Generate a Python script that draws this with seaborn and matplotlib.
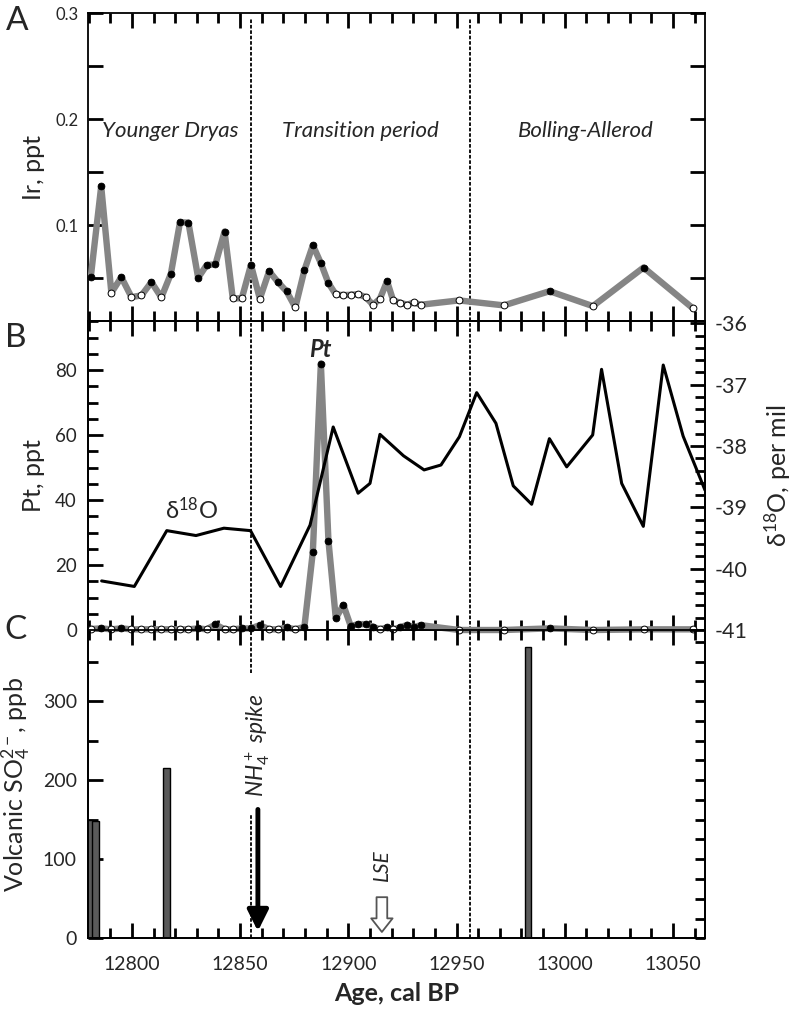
import matplotlib
matplotlib.use('Agg')
import numpy as np
import pandas as pd
import matplotlib.pyplot as plt
import seaborn as sns
from matplotlib.ticker import MultipleLocator, FixedLocator

# --- data ---
age = [12781.0, 12785.8, 12790.5, 12795.1, 12799.8, 12804.4, 12809.0, 12813.6, 12818.0, 12822.2,
       12826.1, 12830.6, 12834.5, 12838.6, 12842.8, 12846.6, 12850.8, 12855.0, 12859.1, 12863.4,
       12867.4, 12871.5, 12875.5, 12879.7, 12883.6, 12887.3, 12890.8, 12894.2, 12897.7, 12901.1,
       12904.5, 12908.0, 12911.4, 12914.6, 12917.9, 12920.7, 12924.0, 12927.2, 12930.2, 12933.4,
       12951.1, 12971.9, 12993.0, 13013.0, 13036.4, 13059.3]

ir = [0.0515, 0.1367, 0.0364, 0.0511, 0.0323, 0.0339, 0.0464, 0.0320, 0.0543, 0.1028,
      0.1025, 0.0505, 0.0624, 0.0633, 0.0941, 0.0310, 0.0313, 0.0627, 0.0308, 0.0567,
      0.0467, 0.0376, 0.0226, 0.0577, 0.0812, 0.0643, 0.0455, 0.0348, 0.0342, 0.0345,
      0.0351, 0.0323, 0.0251, 0.0308, 0.0473, 0.0292, 0.0270, 0.0251, 0.0273, 0.0251,
      0.0292, 0.0245, 0.0379, 0.0238, 0.0602, 0.0216]
ir_detected = [1, 1, 0, 1, 0, 0, 1, 0, 1, 1,
               1, 1, 1, 1, 1, 0, 0, 1, 0, 1,
               1, 1, 0, 1, 1, 1, 1, 0, 0, 0,
               0, 0, 0, 0, 1, 0, 0, 0, 0, 0,
               0, 0, 1, 0, 1, 0]

pt = [0.3, 0.5, 0.2, 0.5, 0.2, 0.2, 0.2, 0.2, 0.2, 0.2,
      0.2, 0.5, 0.2, 1.7, 0.2, 0.2, 0.5, 0.5, 1.5, 0.2,
      0.2, 0.8, 0.2, 1.0, 24.1, 82.0, 27.5, 3.6, 7.7, 1.2,
      1.8, 1.8, 1.0, 0.2, 0.8, 0.2, 0.8, 1.6, 0.8, 1.5,
      0.0, 0.0, 0.5, 0.0, 0.2, 0.2]
pt_detected = [0, 1, 0, 1, 0, 0, 0, 0, 0, 0,
               0, 1, 0, 1, 0, 0, 1, 1, 1, 0,
               0, 1, 0, 1, 1, 1, 1, 1, 1, 1,
               1, 1, 1, 0, 1, 0, 1, 1, 1, 1,
               0, 0, 1, 0, 0, 0]

d18o_age = [12786.0, 12801.1, 12816.1, 12829.6, 12842.5, 12854.8, 12868.7, 12882.3, 12893.0, 12904.5,
            12910.0, 12914.6, 12925.5, 12935.0, 12942.8, 12951.3, 12959.3, 12968.2, 12976.2, 12984.7,
            12992.9, 13000.9, 13012.9, 13017.0, 13026.3, 13036.3, 13045.5, 13054.7, 13064.8]
d18o = [-40.20, -40.29, -39.38, -39.46, -39.34, -39.38, -40.29, -39.29, -37.69, -38.77,
        -38.61, -37.81, -38.16, -38.39, -38.31, -37.85, -37.13, -37.63, -38.65, -38.95,
        -37.88, -38.34, -37.82, -36.75, -38.61, -39.31, -36.68, -37.84, -38.72]

so4_age = [12780.3, 12783.2, 12816.0, 12983.0]
so4 = [150, 148, 215, 369]

periods = ['Younger Dryas', 'Transition period', 'Bolling-Allerod']
period_mid = [12817.6, 12905.4, 13009.8]
boundaries = [12855.0, 12956.0]

xticks = [12800, 12850, 12900, 12950, 13000, 13050]

df = pd.DataFrame({'age': age, 'ir': ir, 'ir_det': ir_detected, 'pt': pt, 'pt_det': pt_detected})
df_o = pd.DataFrame({'age': d18o_age, 'd18o': d18o})

# --- style ---
sns.set_theme(style='ticks')
plt.rcParams['font.family'] = ['Lato', 'DejaVu Sans']
plt.rcParams['mathtext.fontset'] = 'custom'
plt.rcParams['mathtext.rm'] = 'Lato'
plt.rcParams['mathtext.it'] = 'Lato:italic'
plt.rcParams['mathtext.bf'] = 'Lato:bold'
plt.rcParams['axes.linewidth'] = 1.3
plt.rcParams['axes.edgecolor'] = 'black'

GRAY = '#858585'
XLIM = (12779.7, 13064.8)
DASH = (0, (2, 1))
TW = 2.0         # tick width
MAJ, MIN = 11, 7  # tick lengths

fig = plt.figure(figsize=(7.96, 10.17), dpi=100)
left, width = 88 / 796, 617 / 796
ax_a = fig.add_axes([left, 1 - 321 / 1017, width, 308 / 1017])
ax_b = fig.add_axes([left, 1 - 630 / 1017, width, 309 / 1017])
ax_c = fig.add_axes([left, 1 - 938.3 / 1017, width, 308.3 / 1017])
ax_b2 = ax_b.twinx()
ax_c2 = ax_c.twinx()
for ax in (ax_a, ax_b, ax_c, ax_b2, ax_c2):
    ax.set_facecolor('none')


def style_x(ax, labels=False):
    ax.set_xlim(XLIM)
    ax.xaxis.set_major_locator(FixedLocator(xticks))
    ax.xaxis.set_minor_locator(MultipleLocator(10))
    ax.tick_params(axis='x', which='major', direction='in', top=True, bottom=True,
                   color='black', width=TW, length=MAJ, labelbottom=labels, labelsize=14, pad=13)
    ax.tick_params(axis='x', which='minor', direction='in', top=True, bottom=True,
                   color='black', width=TW, length=MIN)


def style_y(ax, side, size, pad, maj=MAJ, mn=MIN):
    on_left = side == 'left'
    ax.tick_params(axis='y', which='major', direction='in', left=on_left, right=not on_left,
                   labelleft=on_left, labelright=not on_left, color='black', width=TW,
                   length=maj, labelsize=size, pad=pad)
    ax.tick_params(axis='y', which='minor', direction='in', left=on_left, right=not on_left,
                   color='black', width=TW, length=mn)


def markers(ax, data, ycol, detcol):
    sns.scatterplot(data=data[data[detcol] == 1], x='age', y=ycol, ax=ax, color='black',
                    edgecolor='black', linewidth=0.6, s=24, zorder=5, clip_on=False, legend=False)
    sns.scatterplot(data=data[data[detcol] == 0], x='age', y=ycol, ax=ax, color='white',
                    edgecolor='black', linewidth=0.7, s=24, zorder=5, clip_on=False, legend=False)


# --- panel A: Ir ---
sns.lineplot(data=df, x='age', y='ir', ax=ax_a, color=GRAY, linewidth=4.6, zorder=3,
             estimator=None, sort=False)
markers(ax_a, df, 'ir', 'ir_det')
ax_a.set_ylim(0.0098, 0.3)
ax_a.yaxis.set_major_locator(FixedLocator([0.1, 0.2, 0.3]))
ax_a.yaxis.set_minor_locator(FixedLocator([0.05, 0.15, 0.25]))
ax_a.yaxis.set_major_formatter(lambda v, p: f'{v:.1f}')
style_y(ax_a, 'left', 12, 7, mn=MAJ)
ax_a.tick_params(axis='y', which='both', right=True)
style_x(ax_a)
ax_a.set_xlabel('')
ax_a.set_ylabel('Ir, ppt', fontsize=18)
ax_a.yaxis.set_label_coords(-0.07, 0.5)
for b in boundaries:
    ax_a.axvline(b, ymin=0, ymax=0.98, color='black', lw=1.3, ls=DASH, zorder=1)
for name, xm in zip(periods, period_mid):
    ax_a.text(xm, 0.189, name, ha='center', va='center', fontsize=16, style='italic')

# --- panel B: Pt and d18O ---
sns.lineplot(data=df, x='age', y='pt', ax=ax_b, color=GRAY, linewidth=4.6, zorder=3,
             estimator=None, sort=False, clip_on=False)
markers(ax_b, df, 'pt', 'pt_det')
ax_b.set_ylim(0, 95.1)
ax_b.yaxis.set_major_locator(MultipleLocator(20))
ax_b.yaxis.set_minor_locator(MultipleLocator(5))
style_y(ax_b, 'left', 13.5, 8)
style_x(ax_b)
ax_b.set_xlabel('')
ax_b.set_ylabel('Pt, ppt', fontsize=18)
ax_b.yaxis.set_label_coords(-0.07, 0.5)
for b in boundaries:
    ax_b.axvline(b, color='black', lw=1.3, ls=DASH, zorder=1)
ax_b.text(12886.9, 86.2, 'Pt', ha='center', va='center', fontsize=17, fontweight='bold',
          style='italic')
ax_b.text(12827.7, 36.9, r'$\mathrm{\delta}^{18}$O', ha='center', va='center', fontsize=17)

sns.lineplot(data=df_o, x='age', y='d18o', ax=ax_b2, color='black', linewidth=2.2,
             estimator=None, sort=False, zorder=4)
ax_b2.set_ylim(-41, -35.962)
ax_b2.yaxis.set_major_locator(MultipleLocator(1))
ax_b2.yaxis.set_minor_locator(MultipleLocator(0.2))
ax_b2.yaxis.set_major_formatter(lambda v, p: f'{v:.0f}')
style_y(ax_b2, 'right', 15.5, 7)
ax_b2.set_xlim(XLIM)
ax_b2.set_xlabel('')
ax_b2.set_ylabel(r'$\mathrm{\delta}^{18}$O, per mil', fontsize=18)
ax_b2.yaxis.set_label_coords(1.094, 0.5)

# --- panel C: volcanic sulfate ---
ax_c.bar(so4_age, so4, width=3.2, color='#5a5a5a', edgecolor='black', linewidth=1.0, zorder=2)
ax_c.set_ylim(0, 390)
ax_c.yaxis.set_major_locator(MultipleLocator(100))
ax_c.yaxis.set_minor_locator(MultipleLocator(50))
style_y(ax_c, 'left', 14, 8)
style_x(ax_c, labels=True)
ax_c.spines['top'].set_visible(False)
ax_c.set_ylabel(r'Volcanic SO$_4^{2-}$, ppb', fontsize=18)
ax_c.yaxis.set_label_coords(-0.089, 0.5)
ax_c.set_xlabel('Age, cal BP', fontsize=18, fontweight='bold', labelpad=6)
# right-hand ticks of panel C
ax_c2.set_ylim(0, 390)
ax_c2.yaxis.set_major_locator(MultipleLocator(25))
ax_c2.yaxis.set_minor_locator(MultipleLocator(25))
style_y(ax_c2, 'right', 14, 7, maj=MIN)
ax_c2.tick_params(axis='y', labelright=False)
ax_c2.spines['top'].set_visible(False)

ax_c.axvline(boundaries[0], ymin=0.861, ymax=1, color='black', lw=1.3, ls=DASH, zorder=1)
ax_c.axvline(boundaries[0], ymin=0, ymax=0.40, color='black', lw=1.3, ls=DASH, zorder=1)
ax_c.axvline(boundaries[1], color='black', lw=1.3, ls=DASH, zorder=1)

ax_c.text(12858.2, 245, r'$NH_4^+$ spike', rotation=90, ha='center', va='center',
          fontsize=16.5, style='italic')
ax_c.annotate('', xy=(12858.2, 9), xytext=(12858.2, 163),
              arrowprops=dict(arrowstyle='-|>,head_length=0.7,head_width=0.35', lw=3.5,
                              color='black', shrinkA=0, shrinkB=0, mutation_scale=18))
ax_c.text(12915.5, 93, 'LSE', rotation=90, ha='center', va='center', fontsize=15, style='italic')
ax_c.annotate('', xy=(12915.5, 8), xytext=(12915.5, 52),
              arrowprops=dict(arrowstyle='simple,head_length=0.7,head_width=1.1,tail_width=0.55',
                              facecolor='white', edgecolor='#555555', lw=1.3,
                              shrinkA=0, shrinkB=0, mutation_scale=14))

# panel letters
fig.text(17 / 796, 1 - 21 / 1017, 'A', ha='center', va='center', fontsize=24)
fig.text(16 / 796, 1 - 338 / 1017, 'B', ha='center', va='center', fontsize=24)
fig.text(16 / 796, 1 - 630 / 1017, 'C', ha='center', va='center', fontsize=24)

fig.savefig('out.png', dpi=100)
